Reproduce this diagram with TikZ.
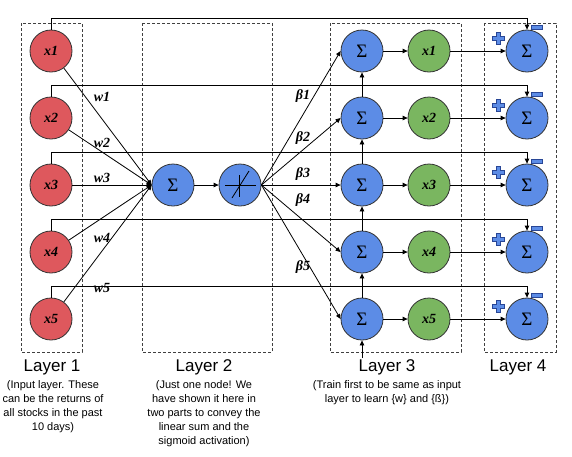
\documentclass[tikz,border=0pt]{standalone}
\usepackage{fontspec}
\setmainfont{Liberation Serif}
\setsansfont{Liberation Sans}
\usepackage{tikz}
\usetikzlibrary{arrows.meta}
\definecolor{redn}{RGB}{222,88,93}
\definecolor{bluen}{RGB}{92,140,230}
\definecolor{greenn}{RGB}{122,182,96}
\definecolor{darkb}{RGB}{40,70,150}
\newcommand{\plussign}[1]{\filldraw [fill = bluen, draw = darkb, line width = 0.5pt] (#1) ++(-2, -6) -- ++(4, 0) -- ++(0, 4) -- ++(4, 0) -- ++(0, 4) -- ++(-4, 0) -- ++(0, 4) -- ++(-4, 0) -- ++(0, -4) -- ++(-4, 0) -- ++(0, -4) -- ++(4, 0) -- cycle;}
\begin{document}
\begin{tikzpicture}[x = 1pt, y = -1pt, line width = 0.8pt,
                        > = {Triangle[length = 5pt, width = 4.5pt]},
                        base/.style = {circle, draw = black!80, minimum size = 42pt, inner sep = 0pt},
                        innode/.style = {base, fill = redn, font = \bfseries\itshape\fontsize{14}{14}\selectfont},
                        sumnode/.style = {base, fill = bluen, font = \fontsize{19}{19}\selectfont},
                        outnode/.style = {base, fill = greenn, font = \bfseries\itshape\fontsize{14}{14}\selectfont},
                        layer/.style = {draw = black!75, line width = 0.7pt, dash pattern = on 3pt off 2pt},
                        wlab/.style = {font = \bfseries\itshape\fontsize{14}{14}\selectfont},
                        title/.style = {font = \sffamily\fontsize{17}{17}\selectfont},
                        note/.style = {font = \sffamily\fontsize{11}{14}\selectfont, align = center, anchor = north},
                        minus/.style = {rectangle, fill = bluen, draw = darkb, line width = 0.5pt, minimum width = 11pt, minimum height = 4.5pt, inner sep = 0pt}]
      \useasboundingbox (0, 0) rectangle (572, 456);
      % dashed layer boxes
      \draw [layer] (21, 23) rectangle (82, 352);
      \draw [layer] (142, 23) rectangle (272, 352);
      \draw [layer] (330, 23) rectangle (461, 352);
      \draw [layer] (484, 23) rectangle (556, 352);
      % layer 1
      \node [innode] (r1) at (51, 51){x1};
      \node [innode] (r2) at (51, 118){x2};
      \node [innode] (r3) at (51, 185){x3};
      \node [innode] (r4) at (51, 252){x4};
      \node [innode] (r5) at (51, 319){x5};
      % layer 2
      \node [sumnode] (s) at (173, 185){Σ};
      \node [sumnode] (g) at (240, 185){};
      \draw (g.center) ++(-15, 0) -- ++(31, 0);
      \draw (g.center) ++(-1, -10) -- ++(0, 22);
      \draw (g.center) ++(-8, 13) -- ++(17, -27);
      % layer 3
      \node [sumnode] (h1) at (362, 51){Σ};
      \node [sumnode] (h2) at (362, 118){Σ};
      \node [sumnode] (h3) at (362, 185){Σ};
      \node [sumnode] (h4) at (362, 252){Σ};
      \node [sumnode] (h5) at (362, 319){Σ};
      \node [outnode] (o1) at (429, 51){x1};
      \node [outnode] (o2) at (429, 118){x2};
      \node [outnode] (o3) at (429, 185){x3};
      \node [outnode] (o4) at (429, 252){x4};
      \node [outnode] (o5) at (429, 319){x5};
      \coordinate (b5) at (362, 358);
      % layer 4
      \node [sumnode] (e1) at (527, 51){Σ};
      \node [sumnode] (e2) at (527, 118){Σ};
      \node [sumnode] (e3) at (527, 185){Σ};
      \node [sumnode] (e4) at (527, 252){Σ};
      \node [sumnode] (e5) at (527, 319){Σ};
      \coordinate (p1) at (498, 38);
      \coordinate (p2) at (498, 105);
      \coordinate (p3) at (498, 172);
      \coordinate (p4) at (498, 239);
      \coordinate (p5) at (498, 306);
      \plussign{p1} \plussign{p2} \plussign{p3} \plussign{p4} \plussign{p5}
      \node [minus] (m1) at (537, 27){};
      \node [minus] (m2) at (537, 94){};
      \node [minus] (m3) at (537, 161){};
      \node [minus] (m4) at (537, 228){};
      \node [minus] (m5) at (537, 295){};
      % connections
      \draw [->] (r1) -- (s.west);
      \draw [->] (r2) -- (s.west);
      \draw [->] (r3) -- (s.west);
      \draw [->] (r4) -- (s.west);
      \draw [->] (r5) -- (s.west);
      \draw [->] (s) -- (g);
      \draw [->] (g.east) -- (h1.west);
      \draw [->] (g.east) -- (h2.west);
      \draw [->] (g.east) -- (h3.west);
      \draw [->] (g.east) -- (h4.west);
      \draw [->] (g.east) -- (h5.west);
      \draw [->] (h2) -- (h1);
      \draw [->] (h3) -- (h2);
      \draw [->] (h4) -- (h3);
      \draw [->] (h5) -- (h4);
      \draw [->] (b5) -- (h5);
      \draw [->] (h1) -- (o1);
      \draw [->] (h2) -- (o2);
      \draw [->] (h3) -- (o3);
      \draw [->] (h4) -- (o4);
      \draw [->] (h5) -- (o5);
      \draw [->] (o1) -- (e1);
      \draw [->] (o2) -- (e2);
      \draw [->] (o3) -- (e3);
      \draw [->] (o4) -- (e4);
      \draw [->] (o5) -- (e5);
      \draw [->] (r1.north) -- ++(0, -11) -| (e1.north);
      \draw [->] (r2.north) -- ++(0, -11) -| (e2.north);
      \draw [->] (r3.north) -- ++(0, -11) -| (e3.north);
      \draw [->] (r4.north) -- ++(0, -11) -| (e4.north);
      \draw [->] (r5.north) -- ++(0, -11) -| (e5.north);
      % weights
      \node [wlab] (w1) at (102, 97){w1};
      \node [wlab] (w2) at (102, 143){w2};
      \node [wlab] (w3) at (102, 178){w3};
      \node [wlab] (w4) at (102, 238){w4};
      \node [wlab] (w5) at (102, 288){w5};
      \node [wlab] (v1) at (303, 96){β1};
      \node [wlab] (v2) at (303, 138){β2};
      \node [wlab] (v3) at (303, 174){β3};
      \node [wlab] (v4) at (303, 200){β4};
      \node [wlab] (v5) at (303, 267){β5};
      % captions
      \node [title] (t1) at (52, 367){Layer 1};
      \node [title] (t2) at (204, 367){Layer 2};
      \node [title] (t3) at (387, 367){Layer 3};
      \node [title] (t4) at (518, 367){Layer 4};
      \node [note] (n1) at (53, 377){(Input layer. These\\can be the returns of\\all stocks in the past\\10 days)};
      \node [note] (n2) at (204, 377){(Just one node! We\\have shown it here in\\two parts to convey the\\linear sum and the\\sigmoid activation)};
      \node [note] (n3) at (387, 377){(Train first to be same as input\\layer to learn \{w\} and \{ß\})};
    \end{tikzpicture}
\end{document}
